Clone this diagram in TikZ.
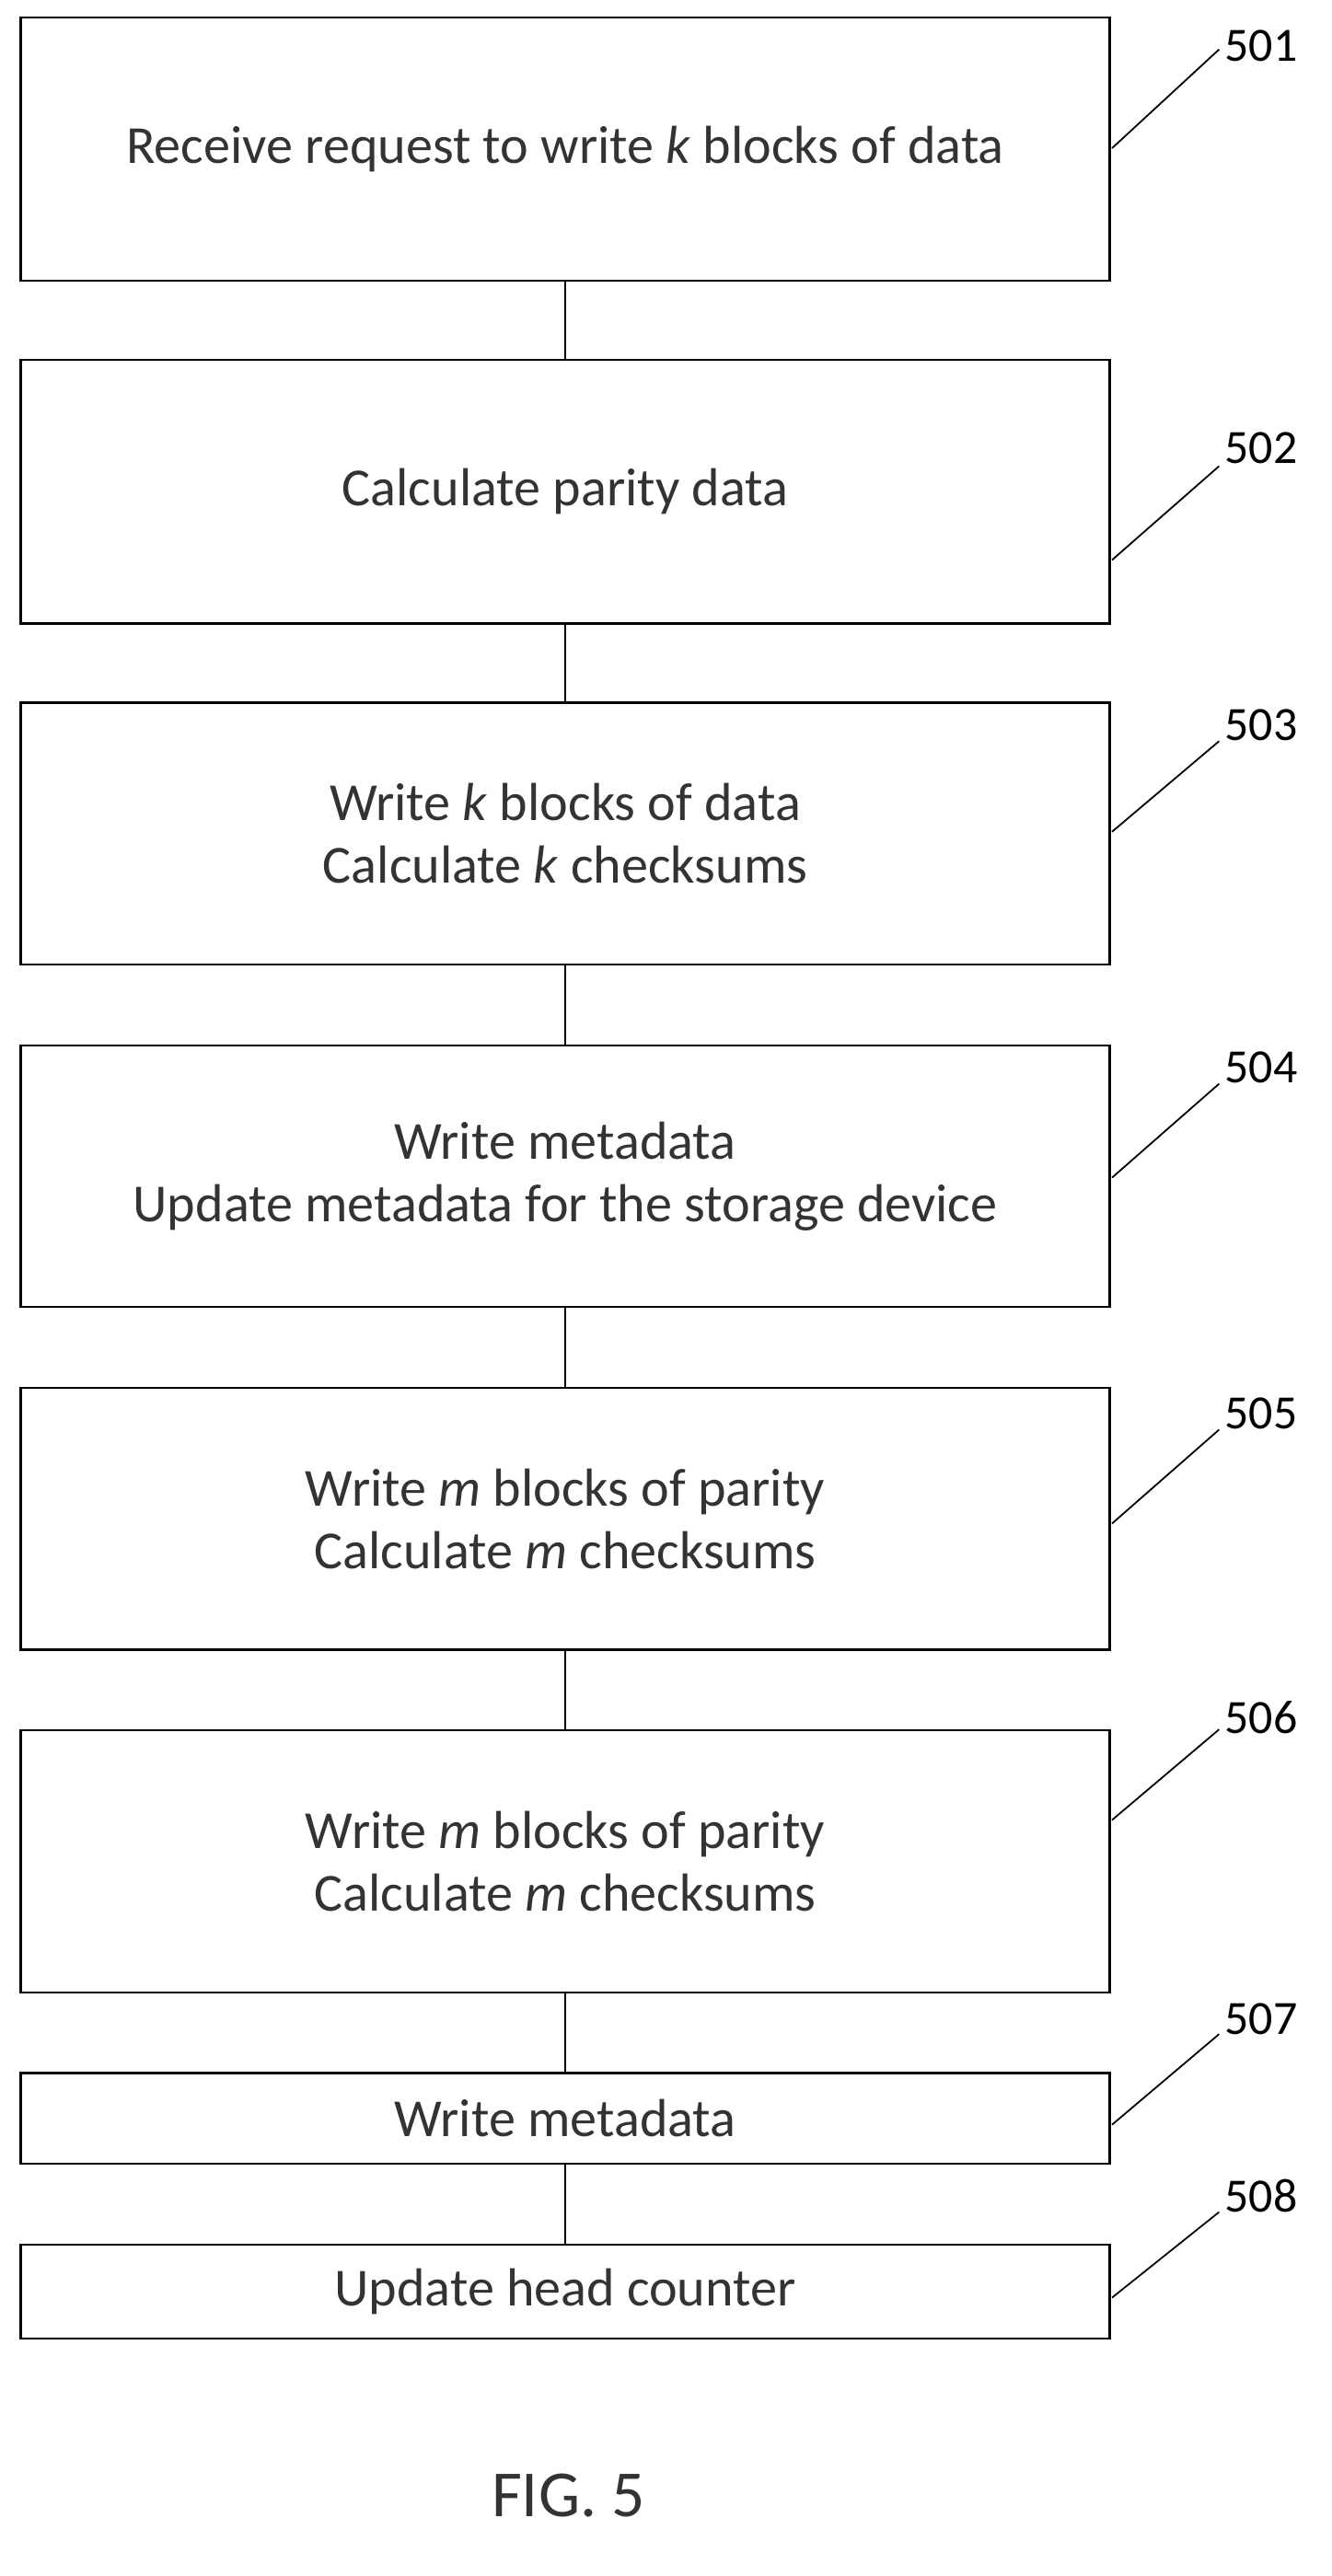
\documentclass[tikz,border=0pt]{standalone}
\usepackage{fontspec}
\setmainfont{Carlito}
\begin{document}
\begin{tikzpicture}[x=1pt,y=-1pt,
  box/.style={draw,line width=1.2pt,minimum width=661pt,anchor=north west,inner sep=0pt,align=center,font=\fontsize{32.5}{38}\selectfont\color{black!80}},
  lead/.style={line width=1pt},
  lab/.style={font=\fontsize{29}{32}\selectfont,anchor=west}]
\useasboundingbox (0,0) rectangle (808,1564);
\node[box,minimum height=160pt] (b1) at (12,10) {Receive request to write \textit{k} blocks of data};
\node[box,minimum height=160pt] (b2) at (12,218) {Calculate parity data};
\node[box,minimum height=159pt] (b3) at (12,426) {Write \textit{k} blocks of data\\Calculate \textit{k} checksums};
\node[box,minimum height=159pt] (b4) at (12,634) {Write metadata\\Update metadata for the storage device};
\node[box,minimum height=159pt] (b5) at (12,842) {Write \textit{m} blocks of parity\\Calculate \textit{m} checksums};
\node[box,minimum height=159pt] (b6) at (12,1050) {Write \textit{m} blocks of parity\\Calculate \textit{m} checksums};
\node[box,minimum height=55pt] (b7) at (12,1258) {Write metadata};
\node[box,minimum height=57pt] (b8) at (12,1362) {Update head counter};
\foreach \a/\b in {b1/b2,b2/b3,b3/b4,b4/b5,b5/b6,b6/b7,b7/b8} \draw[line width=1pt] (\a.south) -- (\b.north);
\foreach \n/\ya/\yb/\yl/\t in {1/90/30/28/501,2/340/283/272/502,3/505/450/440/503,4/715/658/648/504,5/925/868/858/505,6/1105/1050/1043/506,7/1290/1235/1226/507,8/1395/1343/1333/508}{
  \coordinate (s\n) at (675,\ya); \coordinate (e\n) at (740,\yb);
  \draw[lead] (s\n) -- (e\n);
  \node[lab] (l\n) at (740,\yl) {\t};}
\node[font=\fontsize{40}{44}\selectfont\color{black!80}] (fig) at (345,1515) {FIG. 5};
\end{tikzpicture}
\end{document}
